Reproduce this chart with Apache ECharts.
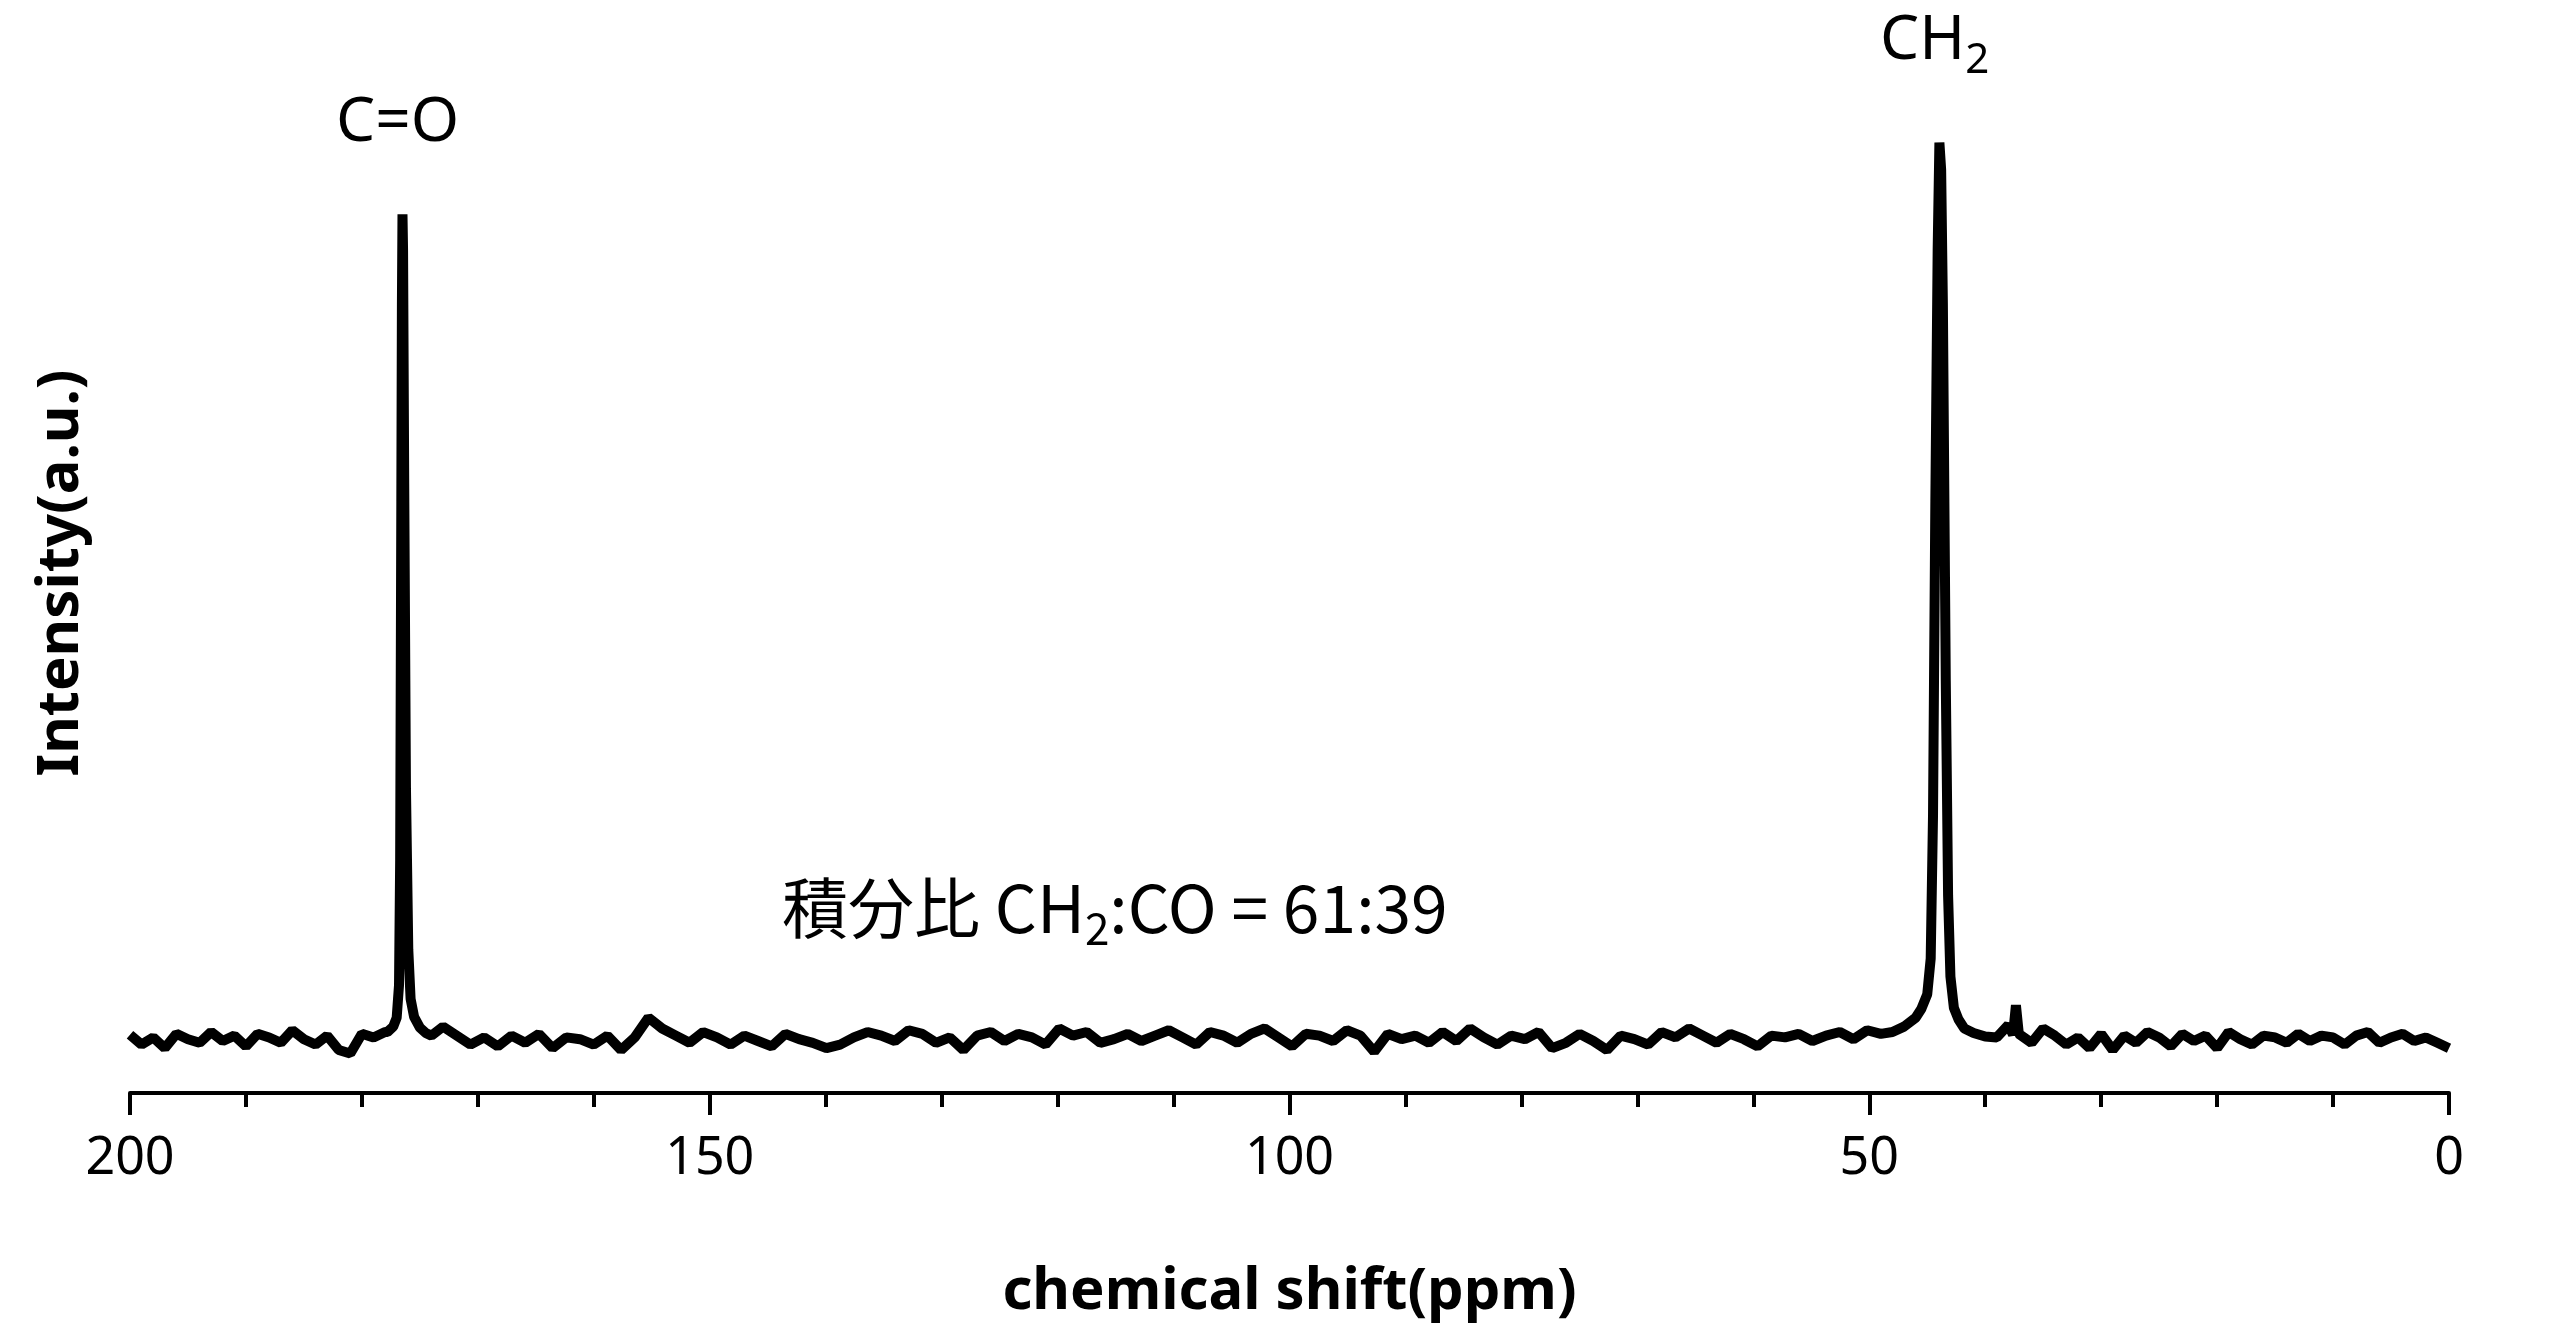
<!DOCTYPE html>
<html>
<head>
<meta charset="utf-8">
<script src="https://cdn.jsdelivr.net/npm/echarts@6/dist/echarts.min.js"></script>
<style>html,body{margin:0;padding:0;background:#fff}#main{width:2560px;height:1326px}</style>
</head>
<body>
<div id="main"></div>
<script>
// baseline noise, one value per ppm
var base1 = [0.5,-0.6,0.2,-1.0,0.6,0,-0.4,0.8,-0.2,0.4,-0.8,0.6,0.2,-0.4,1.0,0,-0.6,0.4,-1.2,-1.6,0.6,0.2,0.8]; // 200..178
var base2 = [1.4,0.4,-0.6,0.2,-0.8,0.4,-0.4,0.6,-1.0,0.2,0,-0.6,0.4,-1.2,0.2,2.4,1.2,0.4,-0.4,0.8,0.2,-0.6,0.4,-0.2,-0.8,0.6,0,-0.4,-1.0,-0.6,
  0.2,0.8,0.4,-0.2,1.0,0.6,-0.4,0.2,-1.2,0.4,0.8,-0.2,0.6,0.2,-0.6,1.2,0.4,0.8,-0.4,0,0.6,-0.2,0.4,1.0,0.2,-0.6,0.8,0.4,-0.4,0.6,
  1.2,0.2,-0.8,0.6,0.4,-0.2,1.0,0.4,-1.4,0.6,0,0.4,-0.4,0.8,-0.2,1.2,0.2,-0.6,0.4,0,0.8,-1.0,-0.4,0.6,-0.2,-1.2,0.4,0,-0.6,0.8,
  0.2,1.2,0.4,-0.4,0.6,0,-0.8,0.4,0.2,0.6,-0.2,0.4,0.8,0,1.0,0.6]; // 173..49 approx
var base3 = [1.6,0.8,-0.4,1.2,0.4,-0.6,0.2,-1.0,0.6,-1.2,0.4,-0.4,0.8,0.2,-0.8,0.6,-0.2,0.4,-1.0,0.8,0,-0.6,0.4,0.2,-0.4,0.6,-0.2,0.4,0.2,-0.6,0.4,0.8,-0.4,0.2,0.6,-0.2,0.2,-0.4,-1.0]; // 38..0
var peakCO = [[177.8,0.8],[177.3,1.4],[177,2.4],[176.8,6],[176.7,20],[176.6,60],[176.55,82],[176.5,92],[176.45,88],[176.35,62],[176.2,28],[176,10],[175.8,4.5],[175.5,2.5],[175,1.3],[174.5,0.7],[174,0.4]];
var peakCH2 = [[48,0.8],[47,1.4],[46,2.4],[45.5,3.4],[45,5],[44.7,9],[44.5,25],[44.3,60],[44.1,88],[43.95,100],[43.8,97],[43.65,82],[43.4,40],[43.2,16],[43,7],[42.7,3.5],[42.3,2.2],[41.8,1.2],[41,0.7],[40,0.3],[39,0.2]];
var smallPeak = [[37.6,0.5],[37.35,3.8],[37.1,0.6]];
var xTicks = [0, 50, 100, 150, 200];

var pts = [];
base1.forEach(function (v, i) { pts.push([200 - i, v]); });
base2.forEach(function (v, i) { pts.push([173 - i * (124 / (base2.length - 1)), v]); });
base3.forEach(function (v, i) { pts.push([38 - i * (38 / (base3.length - 1)), v]); });
pts = pts.filter(function (p) { return !(p[0] >= 37 && p[0] <= 37.7); });
pts = pts.concat(peakCO, peakCH2, smallPeak);
pts.sort(function (a, b) { return b[0] - a[0]; });

var myChart = echarts.init(document.getElementById('main'));
var option = {
  animation: false,
  grid: { left: 130, right: 111, top: 53, bottom: 215 },
  xAxis: {
    type: 'value', inverse: true, min: 0, max: 200, interval: 50,
    name: 'chemical shift(ppm)', nameLocation: 'middle', nameGap: 170,
    nameTextStyle: { fontSize: 58, fontWeight: 'bold', color: '#000', fontFamily: 'Noto Sans' },
    axisLine: { onZero: false, lineStyle: { color: '#000', width: 4 } },
    axisTick: { length: 22, lineStyle: { color: '#000', width: 4 } },
    minorTick: { show: true, splitNumber: 5, length: 14, lineStyle: { color: '#000', width: 4 } },
    axisLabel: { fontSize: 52, color: '#000', margin: 40, fontFamily: 'Noto Sans',
      formatter: function (v) { return xTicks.indexOf(v) >= 0 ? v : ''; } },
    splitLine: { show: false }
  },
  yAxis: {
    type: 'value', min: -6, max: 110,
    name: 'Intensity(a.u.)', nameLocation: 'middle', nameGap: 40,
    nameTextStyle: { fontSize: 58, fontWeight: 'bold', color: '#000', fontFamily: 'Noto Sans' },
    axisLine: { show: false }, axisTick: { show: false }, axisLabel: { show: false }, splitLine: { show: false }
  },
  series: [{
    type: 'line', data: pts, showSymbol: false, smooth: false,
    lineStyle: { color: '#000', width: 10 }
  }],
  graphic: [
    { type: 'text', left: 336, top: 92, style: { text: 'C=O', fontSize: 62, fill: '#000', fontFamily: 'Noto Sans' } },
    { type: 'text', left: 1880, top: 10, style: { text: '{a|CH}{s|2}', fill: '#000', fontFamily: 'Noto Sans',
      rich: { a: { fontSize: 62, fontFamily: 'Noto Sans' }, s: { fontSize: 42, fontFamily: 'Noto Sans', padding: [40, 0, 0, 0] } } } },
    { type: 'text', left: 782, top: 875, style: { text: '{a|積分比 CH}{s|2}{a|:CO = 61:39}', fill: '#000',
      rich: { a: { fontSize: 66, fontFamily: 'Noto Sans CJK JP' }, s: { fontSize: 44, fontFamily: 'Noto Sans CJK JP', padding: [40, 0, 0, 0] } } } }
  ]
};
myChart.setOption(option);
</script>
</body>
</html>
